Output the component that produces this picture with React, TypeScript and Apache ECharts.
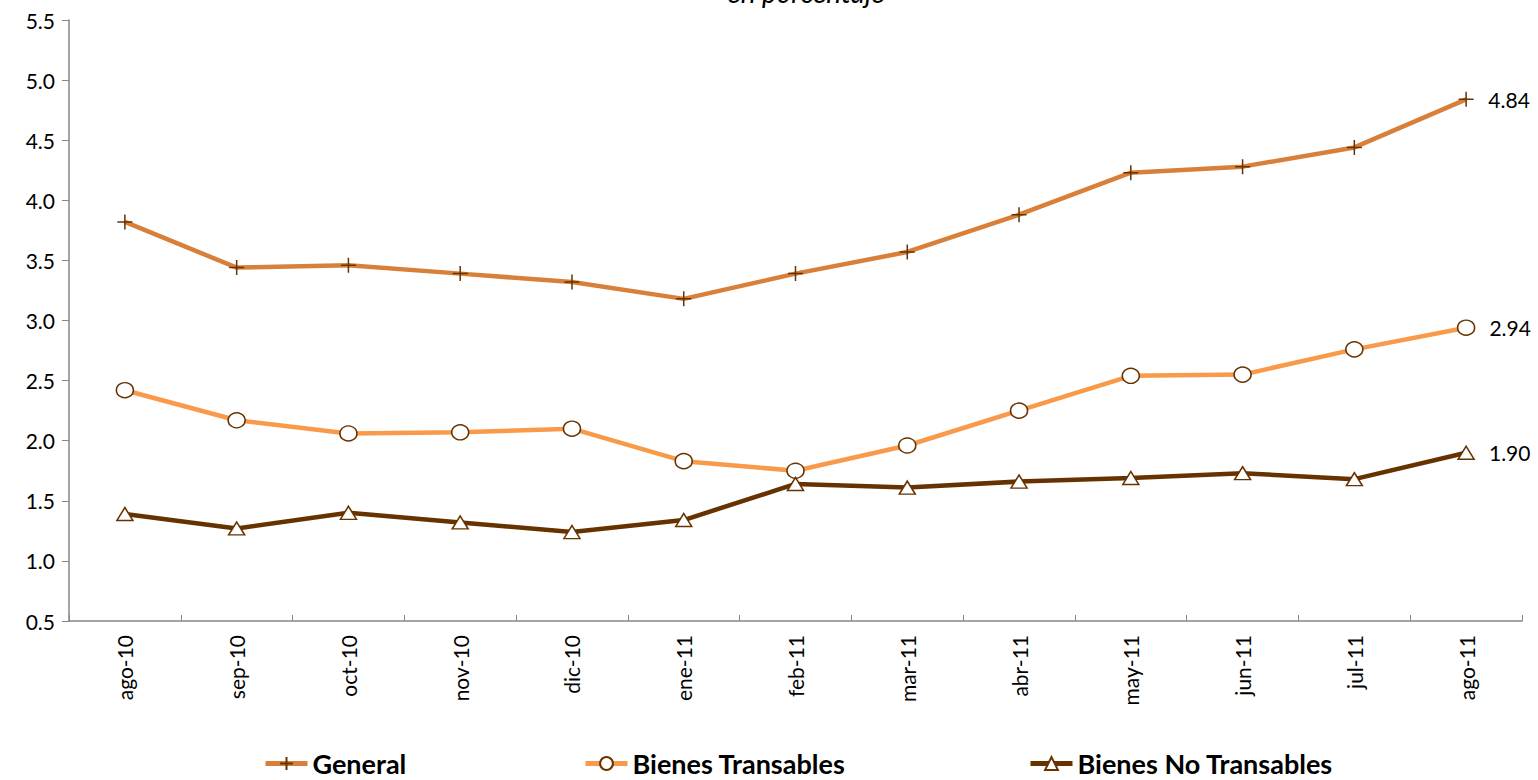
import React, { useEffect, useRef } from "react";
import * as echarts from "echarts";

const categories = ["ago-10", "sep-10", "oct-10", "nov-10", "dic-10", "ene-11", "feb-11", "mar-11", "abr-11", "may-11", "jun-11", "jul-11", "ago-11"];
const general = [3.82, 3.44, 3.46, 3.39, 3.32, 3.18, 3.39, 3.57, 3.88, 4.23, 4.28, 4.44, 4.84];
const transables = [2.42, 2.17, 2.06, 2.07, 2.10, 1.83, 1.75, 1.96, 2.25, 2.54, 2.55, 2.76, 2.94];
const noTransables = [1.39, 1.27, 1.40, 1.32, 1.24, 1.34, 1.64, 1.61, 1.66, 1.69, 1.73, 1.68, 1.90];
const seriesNames = ["General", "Bienes Transables", "Bienes No Transables"];
const subtitle = "en porcentaje";

const FONT = "Lato, 'Open Sans', sans-serif";
const MARK = "#663300";

export default function App() {
  const ref = useRef<HTMLDivElement>(null);
  useEffect(() => {
    if (!ref.current) return;
    const chart = echarts.init(ref.current, null, { renderer: "svg" });
    const last = categories.length - 1;
    const endLabel = {
      show: true,
      position: "right",
      distance: 14,
      color: "#000",
      fontFamily: FONT,
      fontSize: 21,
      formatter: (p: any) => (p.dataIndex === last ? Number(p.value).toFixed(2) : ""),
    };
    const mk = (name: string, data: number[], color: string, symbol: string, size: any, width: number) => ({
      name,
      type: "line",
      data,
      symbol,
      symbolSize: size,
      showSymbol: true,
      lineStyle: { color, width },
      itemStyle: { color: "#fff", borderColor: MARK, borderWidth: 1.5 },
      label: endLabel,
      z: 3,
    });
    chart.setOption({
      animation: false,
      backgroundColor: "#fff",
      textStyle: { fontFamily: FONT },
      graphic: [
        {
          type: "text",
          x: 806,
          y: 6,
          style: {
            text: subtitle,
            fontFamily: FONT,
            fontStyle: "italic",
            fontSize: 28,
            fill: "#000",
            align: "center",
            verticalAlign: "bottom",
          },
        },
      ],
      grid: { left: 69, right: 16, top: 20, bottom: 159, containLabel: false },
      legend: [0, 1, 2].map((i) => ({
        data: [seriesNames[i]],
        left: [263, 583, 1028][i],
        top: 750,
        padding: 0,
        itemWidth: 42,
        itemHeight: 16,
        itemGap: 4,
        lineStyle: { width: 5 },
        textStyle: { fontFamily: FONT, fontSize: 27, fontWeight: "bold", color: "#000", lineHeight: 27 },
      })),
      xAxis: {
        type: "category",
        data: categories,
        boundaryGap: true,
        axisLine: { lineStyle: { color: "#868686", width: 1.5 } },
        axisTick: { show: true, inside: true, length: 6, lineStyle: { color: "#868686" } },
        axisLabel: { rotate: 90, fontSize: 21, color: "#000", fontFamily: FONT, margin: 14 },
      },
      yAxis: {
        type: "value",
        min: 0.5,
        max: 5.5,
        interval: 0.5,
        splitLine: { show: false },
        axisLine: { show: true, lineStyle: { color: "#868686", width: 1.5 } },
        axisTick: { show: true, length: 7, lineStyle: { color: "#868686" } },
        axisLabel: { fontSize: 21, color: "#000", fontFamily: FONT, margin: 14, formatter: (v: number) => v.toFixed(1) },
      },
      series: [
        mk(seriesNames[0], general, "#D8803A", "path://M5,0L5,10M0,5L10,5", 15, 4.5),
        mk(seriesNames[1], transables, "#F99A4A", "circle", [17, 15], 4.5),
        mk(seriesNames[2], noTransables, "#663300", "triangle", [16, 13], 4.5),
      ],
    });
    return () => chart.dispose();
  }, []);
  return <div ref={ref} style={{ width: 1538, height: 780, position: "absolute", left: 0, top: 0 }} />;
}
